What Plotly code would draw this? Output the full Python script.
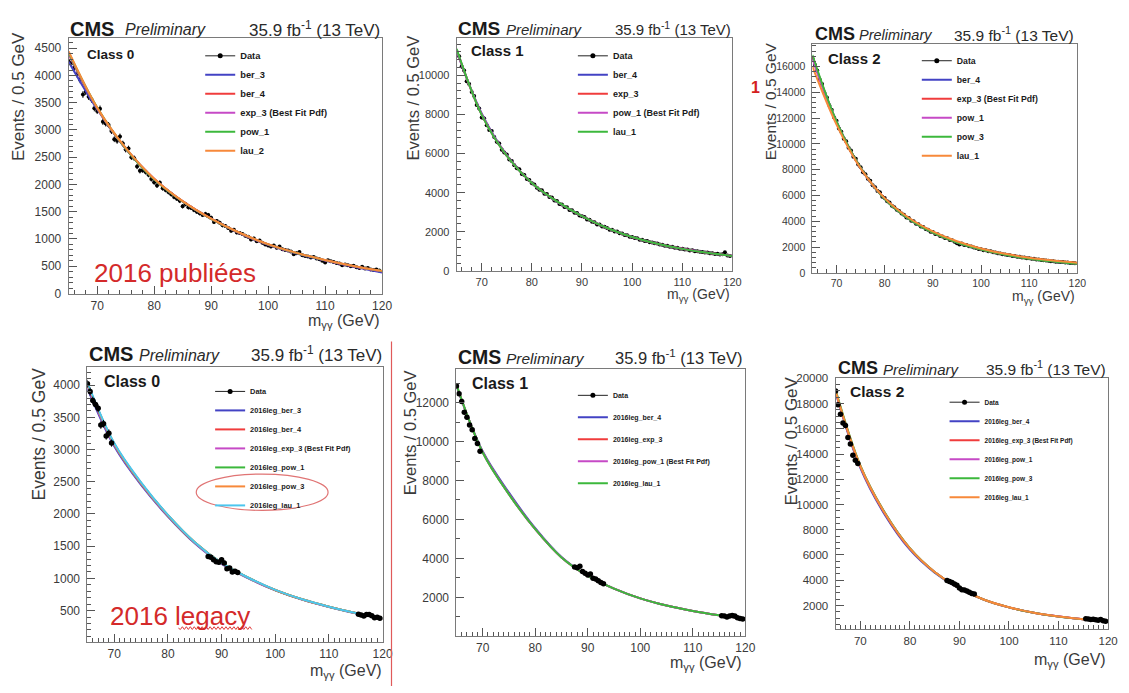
import numpy as np
import plotly.graph_objects as go

W, H = 1129, 693
FONT = "Liberation Sans, Arial, Helvetica, sans-serif"

# ---------------- data ----------------
x_top = np.arange(65.0, 120.0, 0.5)          # bin positions, top row (0.5 GeV bins)
x_low = [65.0, 65.5, 66.0, 66.5, 67.0, 67.5, 68.0, 68.5, 69.0, 69.5]
x_mid = [87.5, 88.0, 88.5, 89.0, 89.5, 90.0, 90.5, 91.0, 91.5, 92.0, 92.5, 93.0]
x_end = [115.5, 116.0, 116.5, 117.0, 117.5, 118.0, 118.5, 119.0, 119.5]
curve_x = [65, 70, 75, 80, 85, 90, 95, 100, 105, 110, 115, 120]

# 2016 published, class 0
tl_data = [4250, 4230, 4150, 4020, 3920, 3650, 3700, 3610, 3560, 3400,
           3350, 3390, 3150, 3120, 3090, 2980, 2830, 2800, 2880, 2750,
           2640, 2660, 2500, 2480, 2330, 2250, 2260, 2230, 2180, 2100,
           2040, 1980, 2030, 1930, 1900, 1860, 1820, 1770, 1740, 1700,
           1600, 1640, 1580, 1570, 1530, 1500, 1470, 1440, 1460, 1440,
           1390, 1310, 1330, 1300, 1250, 1240, 1200, 1150, 1170, 1120,
           1110, 1090, 1060, 1040, 990, 1010, 960, 970, 930, 900,
           880, 860, 880, 840, 860, 810, 800, 790, 770, 720,
           740, 760, 700, 690, 680, 660, 670, 640, 630, 600,
           570, 610, 590, 580, 560, 550, 520, 530, 520, 500,
           510, 480, 470, 490, 460, 470, 440, 430, 440, 420]
tl_ber_3 = [4250, 3380, 2660, 2100, 1690, 1368, 1105, 895, 735, 603, 492, 385]
tl_ber_4 = [4390, 3400, 2660, 2100, 1690, 1370, 1110, 900, 740, 610, 500, 410]
tl_exp_3 = [4400, 3400, 2655, 2100, 1690, 1372, 1110, 900, 740, 610, 500, 408]
tl_pow_1 = [4420, 3410, 2660, 2095, 1688, 1370, 1112, 902, 742, 612, 502, 412]
tl_lau_2 = [4440, 3410, 2670, 2105, 1695, 1375, 1115, 905, 745, 615, 505, 415]

# 2016 published, class 1
tm_data = [11200, 10980, 10450, 10250, 9700, 9560, 9150, 8950, 8480, 8300,
           7850, 7800, 7450, 7200, 7150, 6850, 6600, 6520, 6200, 6050,
           5950, 5700, 5620, 5400, 5250, 5200, 4950, 4900, 4700, 4650,
           4480, 4420, 4250, 4150, 4120, 3950, 3930, 3780, 3750, 3600,
           3580, 3420, 3400, 3270, 3250, 3120, 3100, 2980, 2960, 2840,
           2790, 2760, 2630, 2620, 2510, 2490, 2380, 2380, 2270, 2260,
           2200, 2110, 2100, 2010, 2010, 1930, 1920, 1840, 1830, 1750,
           1740, 1680, 1670, 1600, 1600, 1530, 1530, 1470, 1460, 1410,
           1400, 1350, 1340, 1290, 1290, 1240, 1240, 1190, 1190, 1140,
           1140, 1100, 1090, 1050, 1060, 1010, 1010, 980, 970, 940,
           940, 900, 905, 870, 875, 840, 850, 950, 790, 760]
tm_ber_4 = [11250, 8050, 5920, 4500, 3540, 2800, 2190, 1730, 1390, 1130, 930, 765]
tm_exp_3 = [11300, 8000, 5900, 4500, 3550, 2800, 2190, 1730, 1390, 1130, 930, 770]
tm_pow_1 = [11300, 8000, 5900, 4500, 3550, 2805, 2195, 1735, 1392, 1132, 932, 772]
tm_lau_1 = [11350, 7980, 5890, 4500, 3555, 2805, 2195, 1732, 1390, 1128, 928, 768]

# 2016 published, class 2
tr_data = [16650, 16150, 15700, 15000, 14650, 13950, 13600, 13000, 12650, 12050,
           11800, 11200, 10950, 10400, 10200, 9700, 9500, 9000, 8850, 8400,
           8200, 7800, 7650, 7300, 7150, 6800, 6650, 6350, 6250, 5900,
           5800, 5550, 5450, 5200, 5100, 4900, 4800, 4600, 4500, 4300,
           4250, 4050, 4000, 3820, 3780, 3600, 3560, 3400, 3350, 3200,
           3180, 3020, 3000, 2860, 2830, 2700, 2680, 2560, 2530, 2420,
           2300, 2200, 2280, 2170, 2160, 2060, 2050, 1960, 1940, 1860,
           1840, 1760, 1750, 1680, 1670, 1600, 1590, 1520, 1510, 1450,
           1430, 1380, 1370, 1310, 1310, 1250, 1250, 1190, 1190, 1140,
           1130, 1090, 1090, 1040, 1040, 1000, 990, 960, 950, 910,
           910, 870, 870, 840, 840, 800, 800, 770, 770, 740]
tr_ber_4 = [16700, 11750, 8150, 5720, 4180, 3120, 2360, 1810, 1410, 1110, 890, 700]
tr_exp_3 = [16750, 11700, 8150, 5750, 4200, 3130, 2370, 1820, 1420, 1120, 900, 720]
tr_pow_1 = [16600, 11650, 8120, 5740, 4210, 3150, 2390, 1840, 1440, 1140, 920, 740]
tr_pow_3 = [16900, 11750, 8150, 5730, 4190, 3120, 2360, 1810, 1410, 1100, 880, 700]
tr_lau_1 = [16000, 11500, 8100, 5800, 4280, 3220, 2450, 1890, 1480, 1180, 960, 790]

# 2016 legacy, class 0
bl_low = [4020, 3900, 3760, 3700, 3640, 3380, 3400, 3210, 3255, 3100]
bl_mid = [1340, 1330, 1290, 1260, 1250, 1290, 1240, 1150, 1160, 1100, 1110, 1090]
bl_end = [445, 430, 415, 440, 440, 420, 390, 395, 380]
bl_ber_3 = [3950, 3050, 2450, 1960, 1545, 1225, 1000, 815, 670, 556, 458, 372]
bl_ber_4 = [4010, 3085, 2475, 1978, 1558, 1238, 1008, 820, 675, 560, 462, 378]
bl_exp_3 = [3980, 3070, 2465, 1970, 1552, 1232, 1005, 818, 673, 558, 460, 376]
bl_pow_1 = [4015, 3088, 2478, 1980, 1560, 1240, 1010, 820, 675, 560, 462, 379]
bl_pow_3 = [4020, 3090, 2480, 1980, 1560, 1240, 1010, 820, 675, 560, 462, 380]
bl_lau_1 = [4040, 3100, 2490, 1985, 1562, 1240, 1010, 822, 676, 561, 463, 382]

# 2016 legacy, class 1
bm_low = [12850, 12450, 12050, 11500, 11250, 10850, 10600, 10150, 9900, 9500]
bm_mid = [3560, 3520, 3600, 3330, 3240, 3150, 3200, 2980, 2950, 2850, 2760, 2700]
bm_end = [1060, 1050, 990, 1040, 1070, 1050, 960, 920, 890]
bm_ber_4 = [12850, 9500, 7380, 5550, 4070, 3100, 2450, 1950, 1580, 1300, 1080, 900]
bm_exp_3 = [12900, 9450, 7300, 5500, 4050, 3100, 2450, 1950, 1580, 1300, 1080, 900]
bm_pow_1 = [12900, 9450, 7300, 5500, 4050, 3100, 2450, 1950, 1580, 1300, 1080, 900]
bm_lau_1 = [12920, 9440, 7290, 5500, 4050, 3100, 2450, 1950, 1580, 1300, 1080, 900]

# 2016 legacy, class 2
br_low = [19000, 17900, 17150, 16450, 16250, 15300, 14800, 13900, 13500, 13250]
br_mid = [3980, 3900, 3820, 3700, 3600, 3380, 3250, 3230, 3150, 3050, 2950, 2900]
br_end = [940, 930, 880, 900, 860, 840, 880, 800, 760]
br_ber_4 = [18900, 12900, 9150, 6420, 4600, 3330, 2440, 1850, 1420, 1120, 910, 780]
br_exp_3 = [19000, 13000, 9250, 6500, 4650, 3350, 2450, 1850, 1420, 1120, 910, 750]
br_pow_1 = [18950, 13050, 9300, 6530, 4660, 3360, 2455, 1852, 1422, 1122, 912, 752]
br_pow_3 = [19100, 13100, 9320, 6540, 4660, 3355, 2450, 1850, 1420, 1118, 905, 745]
br_lau_1 = [19000, 13050, 9280, 6520, 4655, 3352, 2452, 1853, 1423, 1123, 912, 752]

BLUE, RED, MAG, GREEN, ORANGE, CYAN = "#4343c4", "#f03c3c", "#c64ac6", "#3cb83c", "#f7893a", "#4cc6ee"


def px(x):
    return x / W


def py(y):
    return 1 - y / H


panels = [
    dict(dx=(69.3, 385.5), dy=(33, 293), yr=(0, 4680), ydt=500, ymn=100, xmn=2, tfs=12,
         cms=69, pre=124, lumi=385, hy=23, cfs=20, pfs=16, lfs=17,
         cls="Class 0", clx=86, cly=49, clfs=13.5, yt=(18, 92), ytfs=17, xt=(385, 322), xtfs=16,
         leg=(202, 36), legfs=9.3, gap=0, ms=4, curves_on_top=True,
         data=[(list(x_top), tl_data)],
         curves=[("ber_3", BLUE, tl_ber_3), ("ber_4", RED, tl_ber_4),
                 ("exp_3 (Best Fit Pdf)", MAG, tl_exp_3), ("pow_1", GREEN, tl_pow_1),
                 ("lau_2", ORANGE, tl_lau_2)]),
    dict(dx=(460.7, 739), dy=(33, 270), yr=(0, 11890), ydt=2000, ymn=400, xmn=2, tfs=11,
         cms=460, pre=508, lumi=740, hy=23, cfs=19, pfs=15, lfs=15,
         cls="Class 1", clx=473, cly=45, clfs=15, yt=(417, 94), ytfs=16.5, xt=(739, 295), xtfs=14,
         leg=(578, 36), legfs=9, gap=0, ms=4, curves_on_top=True,
         data=[(list(x_top), tm_data)],
         curves=[("ber_4", BLUE, tm_ber_4), ("exp_3", RED, tm_exp_3),
                 ("pow_1 (Best Fit Pdf)", MAG, tm_pow_1), ("lau_1", GREEN, tm_lau_1)]),
    dict(dx=(819.7, 1087), dy=(39, 272), yr=(0, 17730), ydt=2000, ymn=400, xmn=2, tfs=10.5,
         cms=820, pre=865, lumi=1086, hy=29, cfs=18, pfs=14.5, lfs=15.5,
         cls="Class 2", clx=833, cly=53, clfs=15, yt=(777, 97), ytfs=15.5, xt=(1087, 297), xtfs=14,
         leg=(925, 41), legfs=8.7, gap=0, ms=4, curves_on_top=True,
         data=[(list(x_top), tr_data)],
         curves=[("ber_4", BLUE, tr_ber_4), ("exp_3 (Best Fit Pdf)", RED, tr_exp_3),
                 ("pow_1", MAG, tr_pow_1), ("pow_3", GREEN, tr_pow_3), ("lau_1", ORANGE, tr_lau_1)]),
    dict(dx=(88.2, 386), dy=(368, 648), yr=(15, 4280), ydt=500, ymn=100, xmn=1, tfs=12,
         cms=88, pre=138, lumi=387, hy=355, cfs=20, pfs=16, lfs=17,
         cls="Class 0", clx=103, cly=383, clfs=16, yt=(39, 436), ytfs=17.5, xt=(387, 678), xtfs=16,
         leg=(212, 378), legfs=7.4, gap=0, ms=5.5, curves_on_top=False,
         data=[(x_low, bl_low), (x_mid, bl_mid), (x_end, bl_end)],
         curves=[("2016leg_ber_3", BLUE, bl_ber_3), ("2016leg_ber_4", RED, bl_ber_4),
                 ("2016leg_exp_3 (Best Fit Pdf)", MAG, bl_exp_3), ("2016leg_pow_1", GREEN, bl_pow_1),
                 ("2016leg_pow_3", ORANGE, bl_pow_3), ("2016leg_lau_1", CYAN, bl_lau_1)]),
    dict(dx=(460.5, 752), dy=(370, 642), yr=(20, 13720), ydt=2000, ymn=1000, xmn=1, tfs=12,
         cms=460, pre=508, lumi=751, hy=358, cfs=19.5, pfs=15.5, lfs=16.5,
         cls="Class 1", clx=474, cly=385, clfs=16, yt=(413, 435), ytfs=16.5, xt=(751, 670), xtfs=16,
         leg=(578, 382), legfs=7, gap=3, ms=5.5, curves_on_top=False,
         data=[(x_low, bm_low), (x_mid, bm_mid), (x_end, bm_end)],
         curves=[("2016leg_ber_4", BLUE, bm_ber_4), ("2016leg_exp_3", RED, bm_exp_3),
                 ("2016leg_pow_1 (Best Fit Pdf)", MAG, bm_pow_1), ("2016leg_lau_1", GREEN, bm_lau_1)]),
    dict(dx=(843, 1118), dy=(379, 635), yr=(130, 20030), ydt=2000, ymn=500, xmn=1, tfs=11.5,
         cms=843, pre=889, lumi=1118, hy=369, cfs=18, pfs=15, lfs=15.5,
         cls="Class 2", clx=856, cly=393, clfs=15.5, yt=(799, 443), ytfs=17, xt=(1118, 667), xtfs=16,
         leg=(953, 389), legfs=6.5, gap=0, ms=5.5, curves_on_top=False,
         data=[(x_low, br_low), (x_mid, br_mid), (x_end, br_end)],
         curves=[("2016leg_ber_4", BLUE, br_ber_4), ("2016leg_exp_3 (Best Fit Pdf)", RED, br_exp_3),
                 ("2016leg_pow_1", MAG, br_pow_1), ("2016leg_pow_3", GREEN, br_pow_3),
                 ("2016leg_lau_1", ORANGE, br_lau_1)]),
]

fig = go.Figure()
annotations = []
layout = {}

for i, p in enumerate(panels, start=1):
    xa, ya = f"x{i}", f"y{i}"
    lg = "legend" if i == 1 else f"legend{i}"

    def add_data():
        for xs, ys in p["data"]:
            ys = np.asarray(ys, dtype=float)
            fig.add_trace(go.Scatter(x=xs, y=ys, mode="markers", showlegend=False,
                                     marker=dict(color="black", size=p["ms"]),
                                     error_y=dict(type="data", array=np.sqrt(ys), color="black",
                                                  thickness=1, width=0),
                                     xaxis=xa, yaxis=ya))

    # legend: Data entry
    fig.add_trace(go.Scatter(x=[None], y=[None], mode="lines+markers", name="Data",
                             line=dict(color="#222", width=1), marker=dict(color="black", size=5),
                             xaxis=xa, yaxis=ya, legend=lg, legendgroup=f"g{i}d"))
    if p["curves_on_top"]:
        add_data()
    for k, (name, col, vals) in enumerate(p["curves"]):
        fig.add_trace(go.Scatter(x=curve_x, y=vals, mode="lines", name=name,
                                 line=dict(color=col, width=2, shape="spline", smoothing=1.0),
                                 xaxis=xa, yaxis=ya, legend=lg, legendgroup=f"g{i}c{k}",
                                 hoverinfo="skip"))
    if not p["curves_on_top"]:
        add_data()

    axis_common = dict(showline=True, linecolor="#7a7a7a", linewidth=1, mirror=True,
                       ticks="inside", tickcolor="#555", tickwidth=1, showgrid=False,
                       zeroline=False, tickformat="d",
                       tickfont=dict(family=FONT, size=p["tfs"], color="#3a3a3a"))
    layout[f"xaxis{i}"] = dict(axis_common, domain=[px(p["dx"][0]), px(p["dx"][1])],
                               range=[65, 120], anchor=ya, dtick=10, tick0=0, ticklen=8,
                               ticklabelstandoff=1,
                               minor=dict(ticks="inside", ticklen=4, dtick=p["xmn"], tick0=0,
                                          tickcolor="#555"))
    layout[f"yaxis{i}"] = dict(axis_common, domain=[py(p["dy"][1]), py(p["dy"][0])],
                               range=list(p["yr"]), anchor=xa, dtick=p["ydt"], tick0=0, ticklen=8,
                               ticklabelstandoff=4,
                               minor=dict(ticks="inside", ticklen=4, dtick=p["ymn"], tick0=0,
                                          tickcolor="#555"))
    layout[lg] = dict(x=px(p["leg"][0]), y=py(p["leg"][1]), xanchor="left", yanchor="top",
                      bgcolor="rgba(0,0,0,0)", borderwidth=0, tracegroupgap=p["gap"],
                      traceorder="grouped",
                      font=dict(family=FONT, size=p["legfs"], color="#1a1a1a", weight="bold"))

    # header texts
    annotations += [
        dict(text="<b>CMS</b>", x=px(p["cms"]), y=py(p["hy"]), xanchor="left", yanchor="middle",
             font=dict(family=FONT, size=p["cfs"], color="#1a1a1a")),
        dict(text="<i>Preliminary</i>", x=px(p["pre"]), y=py(p["hy"] + 1), xanchor="left",
             yanchor="middle", font=dict(family=FONT, size=p["pfs"], color="#2a2a2a")),
        dict(text="35.9 fb<sup>-1</sup> (13 TeV)", x=px(p["lumi"]), y=py(p["hy"]), xanchor="right",
             yanchor="middle", font=dict(family=FONT, size=p["lfs"], color="#2a2a2a")),
        dict(text=f"<b>{p['cls']}</b>", x=px(p["clx"]), y=py(p["cly"]), xanchor="left",
             yanchor="middle", font=dict(family=FONT, size=p["clfs"], color="#1a1a1a")),
        dict(text="Events / 0.5 GeV", x=px(p["yt"][0]), y=py(p["yt"][1]), textangle=-90,
             xanchor="center", yanchor="middle",
             font=dict(family=FONT, size=p["ytfs"], color="#3a3a3a")),
        dict(text="m<sub>γγ</sub> (GeV)", x=px(p["xt"][0]), y=py(p["xt"][1]), xanchor="right",
             yanchor="middle", font=dict(family=FONT, size=p["xtfs"], color="#3a3a3a")),
    ]

# slide annotations in red
annotations += [
    dict(text="2016 publiées", x=px(93), y=py(272), xanchor="left", yanchor="middle",
         font=dict(family=FONT, size=26, color="#d42a2a")),
    dict(text="2016 legacy", x=px(109), y=py(622), xanchor="left", yanchor="middle",
         font=dict(family=FONT, size=26, color="#d42a2a")),
    dict(text="<b>1</b>", x=px(762), y=py(83), xanchor="center", yanchor="middle",
         font=dict(family=FONT, size=16, color="#d42020")),
]
for a in annotations:
    a.setdefault("xref", "paper")
    a.setdefault("yref", "paper")
    a.setdefault("showarrow", False)

# wavy spell-check underline under "legacy"
xw, k = 180.0, 0
path = f"M {px(xw)},{py(634)}"
while xw < 253:
    xw += 2.0
    path += f" L {px(xw)},{py(634 + (1.4 if k % 2 == 0 else -1.4))}"
    k += 1

shapes = [
    dict(type="line", xref="paper", yref="paper", x0=px(395), x1=px(395), y0=py(342), y1=py(693),
         line=dict(color="#e05a5a", width=1.2)),
    # red ellipse around the last two legend entries of the legacy class-0 plot
    dict(type="circle", xref="paper", yref="paper", x0=px(198), x1=px(331), y0=py(514), y1=py(477),
         line=dict(color="#e07474", width=1.2)),
    dict(type="path", xref="paper", yref="paper", path=path, line=dict(color="#e03a3a", width=1)),
]

fig.update_layout(width=W, height=H, margin=dict(l=0, r=0, t=0, b=0),
                  paper_bgcolor="white", plot_bgcolor="white",
                  font=dict(family=FONT), annotations=annotations, shapes=shapes,
                  hovermode=False, **layout)

fig.write_html("out.html", config={"displayModeBar": False},
               post_script="document.body.style.margin='0px'; document.body.style.overflow='hidden';")
